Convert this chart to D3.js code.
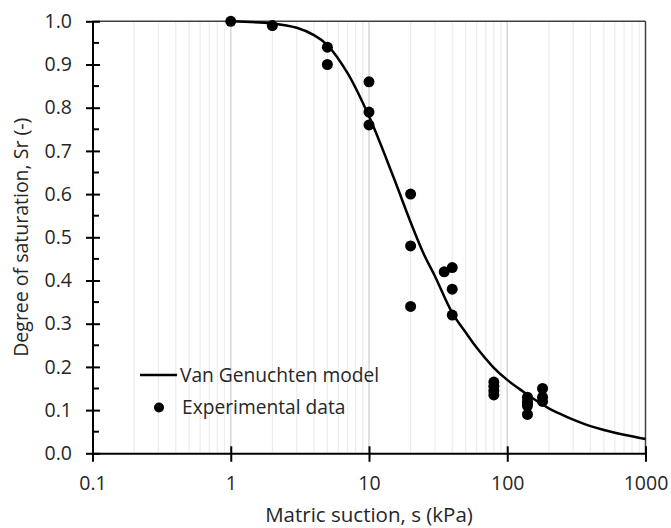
<!DOCTYPE html>
<html>
<head>
<meta charset="utf-8">
<script src="https://cdn.jsdelivr.net/npm/d3@7"></script>
<style>
  body { margin: 0; background: #fff; }
  text { font-family: "Open Sans", "Noto Sans", sans-serif; fill: #262626; }
</style>
</head>
<body>
<div id="chart"></div>
<script>
// measured data (matric suction in kPa, degree of saturation)
const expSuction = [1, 2, 5, 5, 10, 10, 10, 20, 20, 20, 35, 40, 40, 40,
  80, 80, 80, 80, 140, 140, 140, 140, 140, 180, 180, 180];
const expSr = [1.0, 0.99, 0.94, 0.90, 0.86, 0.79, 0.76, 0.60, 0.48, 0.34, 0.42, 0.43, 0.38, 0.32,
  0.165, 0.155, 0.145, 0.135, 0.13, 0.12, 0.115, 0.11, 0.09, 0.15, 0.13, 0.12];

// model curve
const modelSuction = [1, 2, 3, 4, 5, 7, 10, 15, 20, 25, 30, 40, 50, 60, 80, 100, 130, 150, 200, 250, 300, 400, 500, 700, 1000];
const modelSr = [1.0, 0.995, 0.985, 0.968, 0.945, 0.88, 0.78, 0.64, 0.535, 0.46, 0.41, 0.325, 0.28, 0.245, 0.198, 0.17, 0.143, 0.129, 0.104, 0.089, 0.078, 0.063, 0.054, 0.043, 0.033];

const xTicks = [0.1, 1, 10, 100, 1000];
const xTickLabels = ["0.1", "1", "10", "100", "1000"];
const yTicks = [0, 0.1, 0.2, 0.3, 0.4, 0.5, 0.6, 0.7, 0.8, 0.9, 1.0];

const width = 671, height = 528;
const margin = { top: 21.3, right: 25.5, bottom: 74.7, left: 92.5 };
const iw = width - margin.left - margin.right;
const ih = height - margin.top - margin.bottom;

const svg = d3.select("#chart").append("svg")
  .attr("width", width)
  .attr("height", height);

const g = svg.append("g")
  .attr("transform", `translate(${margin.left},${margin.top})`);

const x = d3.scaleLog().domain([0.1, 1000]).range([0, iw]);
const y = d3.scaleLinear().domain([0, 1]).range([ih, 0]);

// minor vertical gridlines 2..9 in each decade
const minor = [];
for (let d = 0.1; d < 1000; d *= 10) {
  for (let k = 2; k <= 9; k++) minor.push(+(d * k).toPrecision(3));
}
g.selectAll(".minor").data(minor).enter().append("line")
  .attr("x1", d => x(d)).attr("x2", d => x(d))
  .attr("y1", 0).attr("y2", ih)
  .attr("stroke", "#ececec")
  .attr("stroke-width", 1.2);

g.selectAll(".major").data(xTicks.slice(1, -1)).enter().append("line")
  .attr("x1", d => x(d)).attr("x2", d => x(d))
  .attr("y1", 0).attr("y2", ih)
  .attr("stroke", "#d6d6d6")
  .attr("stroke-width", 1.5);

// frame top/right
g.append("line").attr("x1", 0).attr("x2", iw).attr("y1", 0).attr("y2", 0)
  .attr("stroke", "#404040").attr("stroke-width", 1.5);
g.append("line").attr("x1", iw).attr("x2", iw).attr("y1", 0).attr("y2", ih)
  .attr("stroke", "#404040").attr("stroke-width", 1.5);

// y axis
const yAxis = g.append("g")
  .call(d3.axisLeft(y).tickValues(yTicks).tickFormat(d3.format(".1f")).tickSizeInner(6.5).tickSizeOuter(0).tickPadding(14));
yAxis.select(".domain").attr("stroke", "#000").attr("stroke-width", 2);
yAxis.selectAll(".tick line").attr("stroke", "#000").attr("stroke-width", 2).attr("x2", 7.5).attr("x1", -6.5);
yAxis.selectAll(".tick text").attr("font-size", 19.5).attr("font-family", "Open Sans").attr("fill", "#262626");

// minor y ticks inside
const yMinor = d3.range(0.05, 1, 0.1);
g.selectAll(".ymin").data(yMinor).enter().append("line")
  .attr("x1", 0).attr("x2", 6.5)
  .attr("y1", d => y(d)).attr("y2", d => y(d))
  .attr("stroke", "#000").attr("stroke-width", 2);

// x axis
const xAxis = g.append("g")
  .attr("transform", `translate(0,${ih})`)
  .call(d3.axisBottom(x).tickValues(xTicks).tickFormat((d, i) => xTickLabels[i]).tickSizeInner(8).tickSizeOuter(0).tickPadding(15));
xAxis.select(".domain").attr("stroke", "#000").attr("stroke-width", 2);
xAxis.selectAll(".tick line").attr("stroke", "#000").attr("stroke-width", 2).attr("y1", -7).attr("y2", 8.5);
xAxis.selectAll(".tick text").attr("font-size", 19.5).attr("font-family", "Open Sans").attr("fill", "#262626");

// model line
const line = d3.line()
  .x((d, i) => x(modelSuction[i]))
  .y(d => y(d))
  .curve(d3.curveCatmullRom.alpha(0.5));
g.append("path")
  .datum(modelSr)
  .attr("d", line)
  .attr("fill", "none")
  .attr("stroke", "#000")
  .attr("stroke-width", 2.5);

// experimental points
g.selectAll(".pt").data(expSr).enter().append("circle")
  .attr("cx", (d, i) => x(expSuction[i]))
  .attr("cy", d => y(d))
  .attr("r", 5.5)
  .attr("fill", "#000");

// legend
const lg = svg.append("g");
lg.append("line").attr("x1", 140).attr("x2", 177).attr("y1", 375).attr("y2", 375)
  .attr("stroke", "#000").attr("stroke-width", 2.5);
lg.append("text").attr("x", 180).attr("y", 375).attr("dy", "0.35em")
  .attr("font-size", 19.2).text("Van Genuchten model");
lg.append("circle").attr("cx", 159).attr("cy", 407.5).attr("r", 5).attr("fill", "#000");
lg.append("text").attr("x", 182).attr("y", 407.5).attr("dy", "0.35em")
  .attr("font-size", 19.2).text("Experimental data");

// axis titles
svg.append("text")
  .attr("x", margin.left + iw / 2).attr("y", 522)
  .attr("text-anchor", "middle")
  .attr("font-size", 20.5)
  .text("Matric suction, s (kPa)");
svg.append("text")
  .attr("transform", `translate(28,${margin.top + ih / 2}) rotate(-90)`)
  .attr("text-anchor", "middle")
  .attr("font-size", 19.5)
  .text("Degree of saturation, Sr (-)");
</script>
</body>
</html>
